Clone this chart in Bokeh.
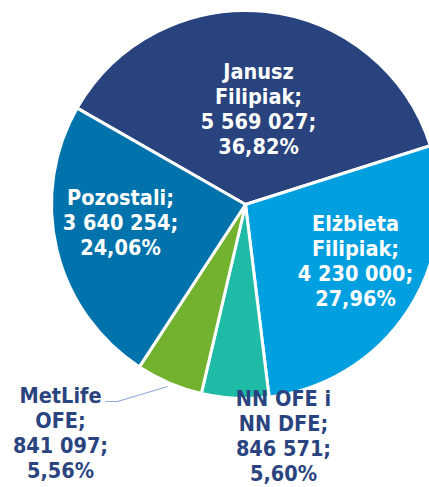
import math
from bokeh.plotting import figure
from bokeh.models import Range1d, ColumnDataSource
from bokeh.core.properties import value
from bokeh.embed import file_html
from bokeh.resources import INLINE

# ---- data ----
labels = ["Janusz\nFilipiak;", "Elżbieta\nFilipiak;", "NN OFE i\nNN DFE;", "MetLife\nOFE;", "Pozostali;"]
values = [5569027, 4230000, 846571, 841097, 3640254]
value_text = ["5 569 027;", "4 230 000;", "846 571;", "841 097;", "3 640 254;"]
percent_text = ["36,82%", "27,96%", "5,60%", "5,56%", "24,06%"]
colors = ["#28437E", "#009FE0", "#20BBA6", "#73B22E", "#0073AC"]

# ---- layout (page pixels, y measured from top) ----
W, H = 429, 487
CX, CY, R = 245, H - 204, 194
START = math.radians(150.2)               # first slice begins here, clockwise
label_xy = [(258, 108.5), (355, 260), (283, 435.5), (60, 432), (120, 222)]
label_col = ["white", "white", "#2A4480", "#2A4480", "white"]
FONT = value("DejaVu Sans Condensed")

total = float(sum(values))
starts, ends = [], []
acc = 0.0
for v in values:
    s = START - 2 * math.pi * acc / total
    acc += v
    e = START - 2 * math.pi * acc / total
    starts.append(s)
    ends.append(e)

p = figure(width=W, height=H, output_backend="svg", toolbar_location=None,
           x_range=Range1d(0, W), y_range=Range1d(0, H), min_border=0)
p.axis.visible = False
p.grid.visible = False
p.outline_line_color = None
p.background_fill_color = "white"

src = ColumnDataSource(dict(start=starts, end=ends, color=colors))
p.wedge(x=CX, y=CY, radius=R, start_angle="start", end_angle="end", direction="clock",
        fill_color="color", line_color="white", line_width=3, source=src)

# leader line for MetLife label
mi = 3
mid = (starts[mi] + ends[mi]) / 2
ex, ey = CX + (R + 4) * math.cos(mid), CY + (R + 4) * math.sin(mid)
p.line([105, 117, ex], [H - 401, H - 401, ey], line_color="#8FAADC", line_width=1.2)

texts = [f"{l}\n{v}\n{pc}" for l, v, pc in zip(labels, value_text, percent_text)]
tsrc = ColumnDataSource(dict(x=[a for a, b in label_xy], y=[H - b for a, b in label_xy],
                             text=texts, color=label_col))
p.text(x="x", y="y", text="text", text_color="color", source=tsrc,
       text_font=FONT, text_font_style="bold", text_font_size="21.5px",
       text_align="center", text_baseline="middle", text_line_height=1.0)

open("out.html", "w").write(file_html(p, INLINE))
